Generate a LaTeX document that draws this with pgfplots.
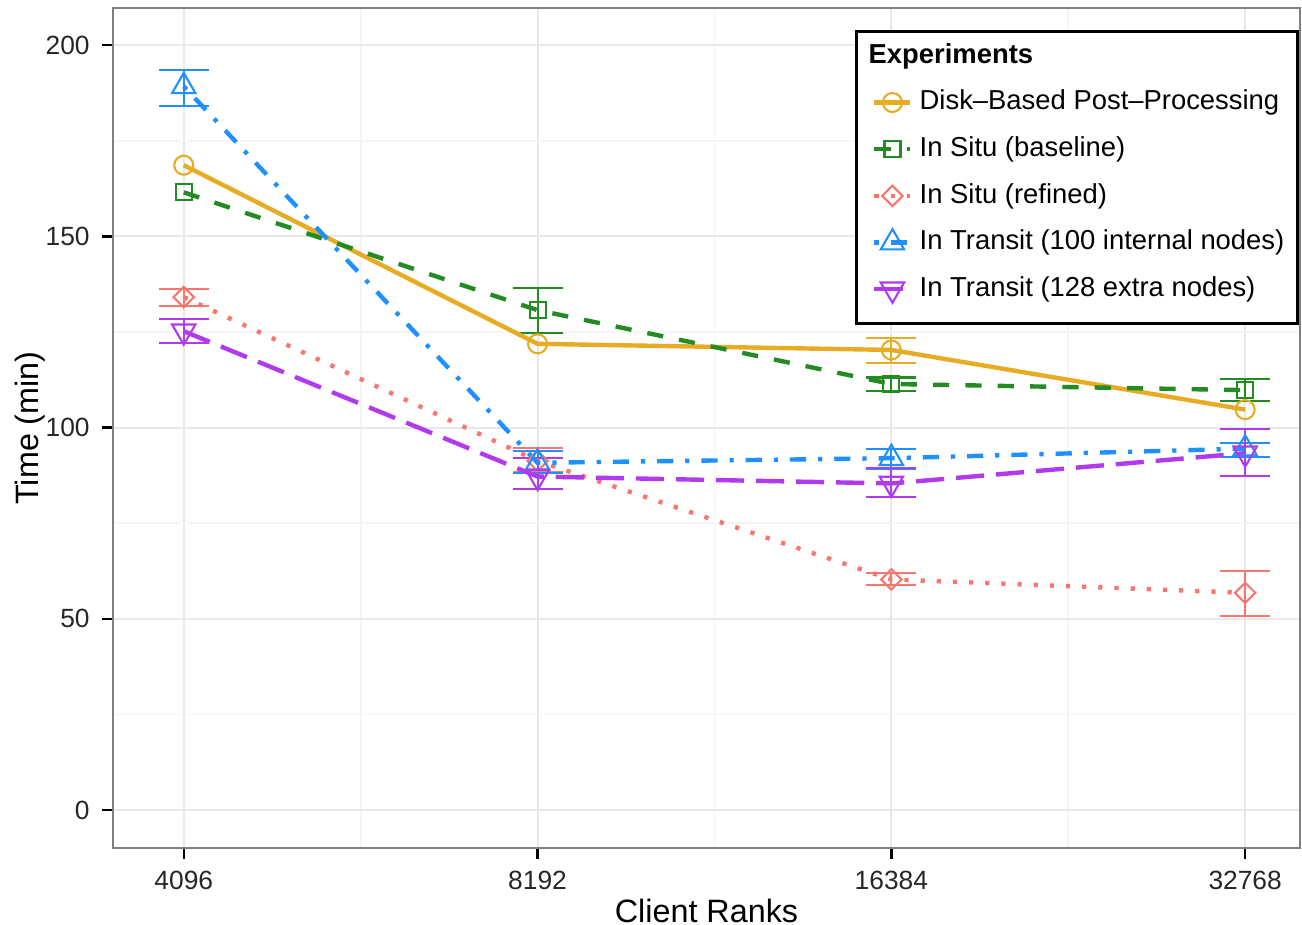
\documentclass[border=0pt]{standalone}
\usepackage{pgfplots}
\pgfplotsset{compat=1.18}
\usepackage{fontspec}
\setmainfont{Liberation Sans}

\definecolor{cdisk}{RGB}{231,171,36}
\definecolor{cbase}{RGB}{34,139,34}
\definecolor{cref}{RGB}{248,118,109}
\definecolor{ctr100}{RGB}{30,144,255}
\definecolor{ctr128}{RGB}{178,58,238}

% x: 0=4096, 1=8192, 2=16384, 3=32768
\pgfplotstableread{
x y
0 168.6
1 121.9
2 120.3
3 104.7
}\disk
\pgfplotstableread{
x y ep em
2 120.3 3.2 3.3
}\diskerr
\pgfplotstableread{
x y
0 161.5
1 130.7
2 111.4
3 109.8
}\base
\pgfplotstableread{
x y ep em
1 130.7 5.7 5.9
2 111.4 1.7 1.8
3 109.8 2.8 2.8
}\baseerr
\pgfplotstableread{
x y ep em
0 134.1 2.1 2.3
1 91.3 3.3 3.0
2 60.3 1.7 1.5
3 56.8 5.8 6.1
}\refined
\pgfplotstableread{
x y ep em
0 189.2 4.3 5.2
1 90.8 3.0 2.7
2 92.0 2.5 2.7
3 94.5 1.4 2.1
}\trhundred
\pgfplotstableread{
x y ep em
0 125.2 3.2 3.1
1 87.2 4.8 3.2
2 85.4 4.0 3.5
3 93.3 6.3 6.0
}\trextra

\pgfplotsset{
  ebar/.style={draw=none, forget plot, no marks,
    error bars/.cd, y dir=both, y explicit, error mark=|,
    error bar style={color=#1, line width=0.6pt, solid},
    error mark options={color=#1, line width=0.6pt, mark size=2.5mm, solid}},
}

\begin{document}
\begin{tikzpicture}
\begin{axis}[
  name=ax,
  scale only axis, width=11.87cm, height=8.40cm,
  xmin=-0.2, xmax=3.155, ymin=-9.9, ymax=209.7,
  xtick={0,1,2,3}, xticklabels={4096,8192,16384,32768},
  ytick={0,50,100,150,200},
  minor xtick={0.5,1.5,2.5}, minor ytick={25,75,125,175},
  grid=both,
  major grid style={color=black!9, line width=0.6pt},
  minor grid style={color=black!4, line width=0.5pt},
  axis line style={color=black!50, line width=0.6pt},
  tick pos=left, tick align=outside,
  major tick length=1.1mm, minor tick length=0pt,
  tick style={black, line width=0.7pt},
  ticklabel style={font=\fontsize{7.5}{9}\selectfont, text=black!85},
  /pgf/number format/assume math mode=true,
  xlabel={Client Ranks}, ylabel={Time (min)},
  label style={font=\fontsize{9.2}{11}\selectfont},
  xlabel style={yshift=1.5mm},
  ylabel style={yshift=-2.4mm},
  legend cell align=left,
  legend style={at={(rel axis cs:0.999,0.974)}, anchor=north east,
    draw=black, line width=0.8pt, font=\fontsize{7.8}{9}\selectfont,
    row sep=0.75mm, inner xsep=0.6mm, inner ysep=0.5mm},
  legend image code/.code={%
    \path (-0.1cm,0cm);
    \draw[mark repeat=2, mark phase=2] plot coordinates {(0cm,0cm) (0.18cm,0cm) (0.36cm,0cm)};},
  every axis plot/.append style={line width=1.25pt},
]
% error bars first so that the hollow markers sit on top
\addplot[ebar=cdisk] table[x=x, y=y, y error plus=ep, y error minus=em] {\diskerr};
\addplot[ebar=cbase] table[x=x, y=y, y error plus=ep, y error minus=em] {\baseerr};
\addplot[ebar=cref] table[x=x, y=y, y error plus=ep, y error minus=em] {\refined};
\addplot[ebar=ctr100] table[x=x, y=y, y error plus=ep, y error minus=em] {\trhundred};
\addplot[ebar=ctr128] table[x=x, y=y, y error plus=ep, y error minus=em] {\trextra};

\addlegendimage{empty legend}
\addlegendentry{\hspace*{-5.1mm}\textbf{Experiments}}

\addplot[color=cdisk, solid, mark=o, mark size=0.95mm,
  mark options={solid, fill=white, line width=0.6pt}] table[x=x, y=y] {\disk};
\addlegendentry{Disk--Based Post--Processing}
\addplot[color=cbase, dash pattern=on 4.6pt off 4.6pt, mark=square, mark size=0.8mm,
  mark options={solid, fill=white, line width=0.6pt}] table[x=x, y=y] {\base};
\addlegendentry{In Situ (baseline)}
\addplot[color=cref, dash pattern=on 1.2pt off 3.4pt, mark=square, mark size=0.72mm,
  mark options={solid, fill=white, line width=0.6pt, rotate=45}] table[x=x, y=y] {\refined};
\addlegendentry{In Situ (refined)}
\addplot[color=ctr100, dash pattern=on 1.2pt off 3.4pt on 4.6pt off 3.4pt, mark=triangle, mark size=1.35mm,
  mark options={solid, fill=white, line width=0.6pt}] table[x=x, y=y] {\trhundred};
\addlegendentry{In Transit (100 internal nodes)}
\addplot[color=ctr128, dash pattern=on 8pt off 3.4pt, mark=triangle, mark size=1.35mm,
  mark options={solid, fill=white, line width=0.6pt, rotate=180},
  legend image code/.code={%
    \path (-0.1cm,0cm) (0cm,-0.27cm);
    \draw[mark repeat=2, mark phase=2] plot coordinates {(0cm,0cm) (0.18cm,0cm) (0.36cm,0cm)};}]
  table[x=x, y=y] {\trextra};
\addlegendentry{In Transit (128 extra nodes)}
\end{axis}
\pgfresetboundingbox
\useasboundingbox ([shift={(-1.13cm,-0.77cm)}]ax.south west) rectangle ([shift={(0.02cm,0.08cm)}]ax.north east);
\end{tikzpicture}
\end{document}
